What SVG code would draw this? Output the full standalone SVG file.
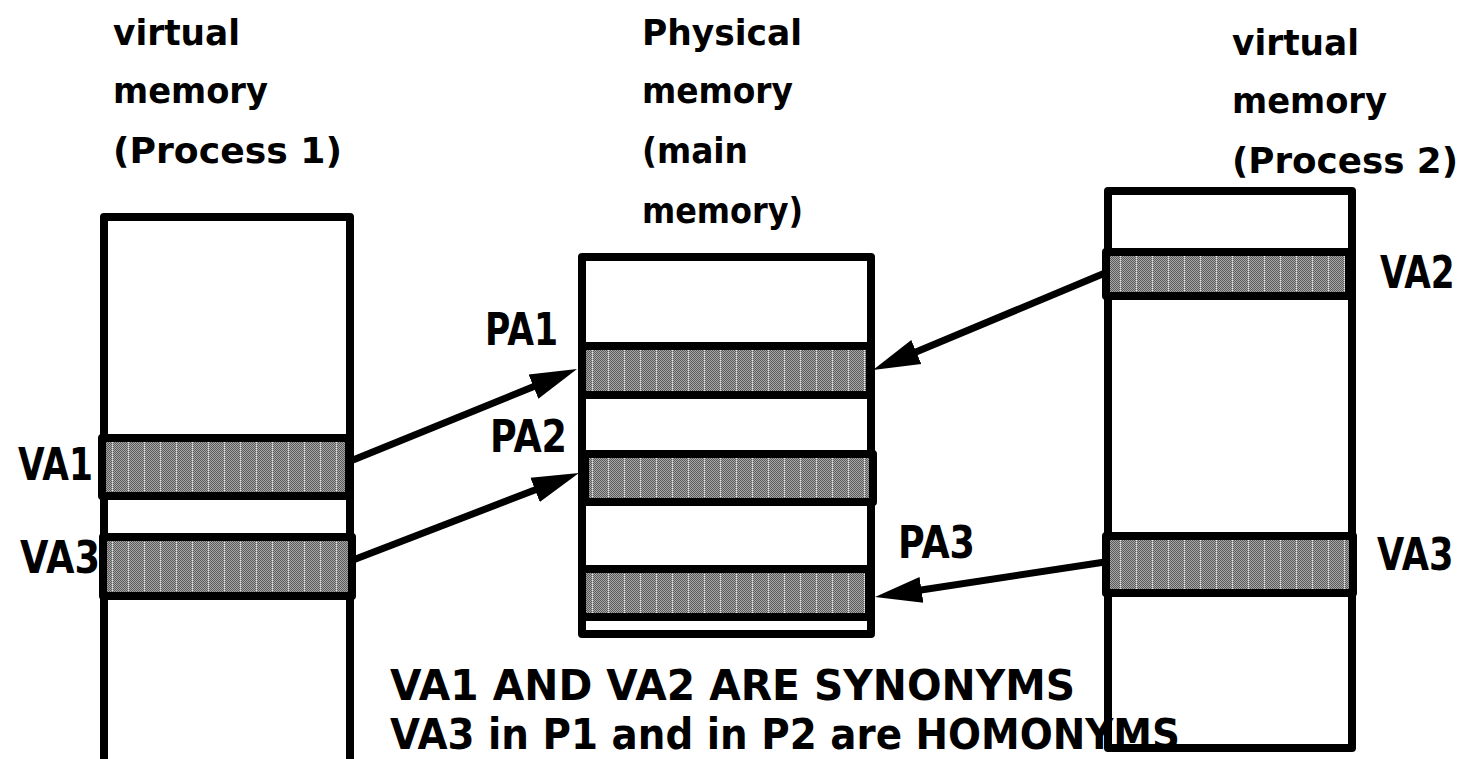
<svg xmlns="http://www.w3.org/2000/svg" width="1468" height="759" viewBox="0 0 1468 759">
  <style>
    .box { fill: none; stroke: #000; stroke-width: 8; stroke-linejoin: round; }
    .band { fill: url(#shade); stroke: #000; stroke-width: 8; stroke-linejoin: round; }
    .title { font-family: "DejaVu Sans", "Liberation Sans", sans-serif; font-weight: bold; font-size: 35px; fill: #000; }
    .label { font-family: "DejaVu Sans", "Liberation Sans", sans-serif; font-weight: bold; font-size: 44px; fill: #000; }
    .note { font-family: "DejaVu Sans", "Liberation Sans", sans-serif; font-weight: bold; font-size: 43px; fill: #000; }
    .arrow { stroke: #000; stroke-width: 7; fill: none; marker-end: url(#head); }
  </style>
  <defs>
    <!-- dithered grey fill with a faint white dotted column every 16px -->
    <pattern id="shade" patternUnits="userSpaceOnUse" x="0" y="0" width="16" height="2">
      <rect width="16" height="2" fill="#5a5a5a"/>
      <path fill="#a8a8a8" d="M1 0h1v1h-1zM3 0h1v1h-1zM5 0h1v1h-1zM7 0h1v1h-1zM9 0h1v1h-1zM11 0h1v1h-1zM13 0h1v1h-1zM15 0h1v1h-1zM0 1h1v1h-1zM2 1h1v1h-1zM4 1h1v1h-1zM6 1h1v1h-1zM8 1h1v1h-1zM10 1h1v1h-1zM12 1h1v1h-1zM14 1h1v1h-1z"/>
      <rect x="0" y="0" width="1" height="1" fill="#e8e8e8"/>
    </pattern>
    <marker id="head" markerUnits="userSpaceOnUse" markerWidth="50" markerHeight="30" viewBox="0 -15 50 30" refX="27" refY="0" orient="auto">
      <path d="M0,-13 L47,0 L0,13 z" fill="#000"/>
    </marker>
  </defs>

  <!-- virtual address space of process 1 -->
  <g id="vm-process1">
    <text class="title" x="113" y="45" textLength="127" lengthAdjust="spacingAndGlyphs">virtual</text>
    <text class="title" x="113" y="103" textLength="155" lengthAdjust="spacingAndGlyphs">memory</text>
    <text class="title" x="113" y="163" textLength="229" lengthAdjust="spacingAndGlyphs">(Process 1)</text>
    <rect class="box" x="104" y="217" width="246" height="600"/>
    <g id="p1-va1">
      <rect class="band" x="102" y="438" width="247" height="58"/>
      <text class="label" x="18" y="480" textLength="75" lengthAdjust="spacingAndGlyphs">VA1</text>
    </g>
    <g id="p1-va3">
      <rect class="band" x="103" y="537" width="249" height="59"/>
      <text class="label" x="20" y="573" textLength="80" lengthAdjust="spacingAndGlyphs">VA3</text>
    </g>
  </g>

  <!-- physical (main) memory -->
  <g id="physical-memory">
    <text class="title" x="642" y="45" textLength="160" lengthAdjust="spacingAndGlyphs">Physical</text>
    <text class="title" x="642" y="103" textLength="151" lengthAdjust="spacingAndGlyphs">memory</text>
    <text class="title" x="642" y="163" textLength="106" lengthAdjust="spacingAndGlyphs">(main</text>
    <text class="title" x="642" y="223" textLength="161" lengthAdjust="spacingAndGlyphs">memory)</text>
    <rect class="box" x="582" y="257" width="289" height="377"/>
    <g id="pa1">
      <rect class="band" x="582" y="346" width="288" height="49"/>
      <text class="label" x="485" y="345" textLength="73" lengthAdjust="spacingAndGlyphs">PA1</text>
    </g>
    <g id="pa2">
      <rect class="band" x="585" y="454" width="288" height="48"/>
      <text class="label" x="490" y="452" textLength="77" lengthAdjust="spacingAndGlyphs">PA2</text>
    </g>
    <g id="pa3">
      <rect class="band" x="582" y="569" width="287" height="48"/>
      <text class="label" x="898" y="558" textLength="77" lengthAdjust="spacingAndGlyphs">PA3</text>
    </g>
  </g>

  <!-- virtual address space of process 2 -->
  <g id="vm-process2">
    <text class="title" x="1232" y="55" textLength="127" lengthAdjust="spacingAndGlyphs">virtual</text>
    <text class="title" x="1232" y="113" textLength="155" lengthAdjust="spacingAndGlyphs">memory</text>
    <text class="title" x="1232" y="173" textLength="226" lengthAdjust="spacingAndGlyphs">(Process 2)</text>
    <rect class="box" x="1108" y="191" width="244" height="557"/>
    <g id="p2-va2">
      <rect class="band" x="1106" y="252" width="243" height="44"/>
      <text class="label" transform="translate(1380,288) scale(0.78,1)">VA2</text>
    </g>
    <g id="p2-va3">
      <rect class="band" x="1106" y="536" width="247" height="57"/>
      <text class="label" transform="translate(1377,570) scale(0.8,1)">VA3</text>
    </g>
  </g>

  <!-- address translations -->
  <g id="connectors">
    <line class="arrow" x1="353" y1="460" x2="558.5" y2="376.5"/>
    <line class="arrow" x1="353" y1="560" x2="560.3" y2="480.2"/>
    <line class="arrow" x1="1105" y1="273" x2="891.4" y2="362.3"/>
    <line class="arrow" x1="1105" y1="562" x2="894.8" y2="594"/>
  </g>

  <g id="notes">
    <text class="note" x="390" y="700" textLength="685" lengthAdjust="spacingAndGlyphs">VA1 AND VA2 ARE SYNONYMS</text>
    <text class="note" x="390" y="749" textLength="790" lengthAdjust="spacingAndGlyphs">VA3 in P1 and in P2 are HOMONYMS</text>
  </g>
</svg>
